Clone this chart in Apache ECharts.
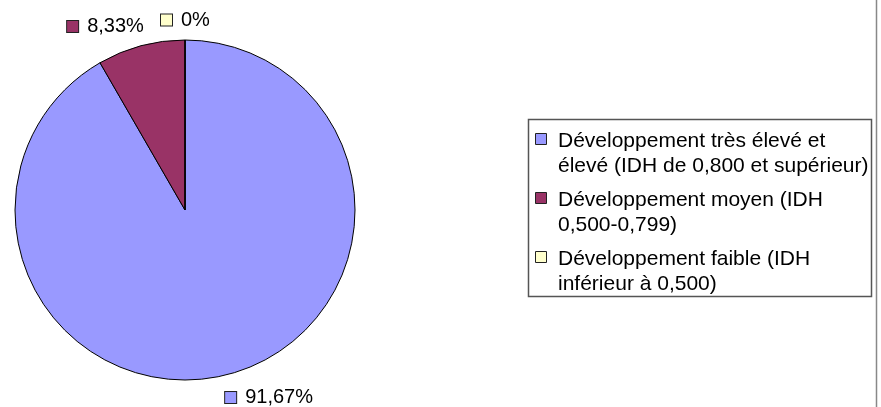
<!DOCTYPE html>
<html>
<head>
<meta charset="utf-8">
<script src="https://cdn.jsdelivr.net/npm/echarts@6/dist/echarts.min.js"></script>
<style>
  html, body { margin: 0; padding: 0; background: #fff; }
  #chart { width: 881px; height: 407px; }
</style>
</head>
<body>
<div id="chart"></div>
<script>
// catégories (le \n coupe la ligne dans la légende)
const categories = [
  'Développement très élevé et\nélevé (IDH de 0,800 et supérieur)',
  'Développement moyen (IDH\n0,500-0,799)',
  'Développement faible (IDH\ninférieur à 0,500)'
];
const values = [91.67, 8.33, 0];
const colors = ['#9999FF', '#993366', '#FFFFCC'];

const FONT = '"Liberation Sans", Arial, sans-serif';

const chartDom = document.getElementById('chart');
const myChart = echarts.init(chartDom);

// petits carrés de couleur devant les étiquettes
const rich = { t: { fontSize: 20, fontFamily: FONT, color: '#000', padding: [0, 0, 0, 9] } };
colors.forEach((c, i) => {
  rich['sq' + i] = { width: 11, height: 11, backgroundColor: c, borderColor: '#222', borderWidth: 1 };
});

// légende encadrée à droite
const legendItems = [];
const lx = 535, ly = 133, pitch = 59;
categories.forEach((name, i) => {
  const top = ly + i * pitch;
  legendItems.push({
    type: 'rect',
    shape: { x: lx + 0.5, y: top + 0.5, width: 11, height: 11 },
    style: { fill: colors[i], stroke: '#222', lineWidth: 1 }
  });
  legendItems.push({
    type: 'text',
    x: lx + 23,
    y: top - 4,
    style: {
      text: name,
      font: '21px ' + FONT,
      fill: '#000',
      lineHeight: 25,
      verticalAlign: 'top'
    }
  });
});

const labelShift = [[-14, 4], [13, 0], [-29, 0]];

const option = {
  animation: false,
  graphic: [
    {
      type: 'rect',
      shape: { x: 528.5, y: 119.5, width: 343, height: 177 },
      style: { fill: '#fff', stroke: '#555', lineWidth: 1.5 }
    },
    {
      type: 'line',
      shape: { x1: 876.5, y1: 0, x2: 876.5, y2: 407 },
      style: { stroke: '#888', lineWidth: 1.5 }
    }
  ].concat(legendItems),
  series: [
    {
      type: 'pie',
      center: [185, 210],
      radius: 170,
      startAngle: 90,
      clockwise: true,
      avoidLabelOverlap: false,
      itemStyle: { borderColor: '#000', borderWidth: 1 },
      label: {
        show: true,
        position: 'outside',
        formatter: p => '{sq' + p.dataIndex + '|}{t|' + String(p.value).replace('.', ',') + '%}',
        rich: rich
      },
      labelLine: { show: false, length: 20, length2: 0 },
      labelLayout: p => ({ dx: labelShift[p.dataIndex][0], dy: labelShift[p.dataIndex][1] }),
      emphasis: { disabled: true },
      data: categories.map((c, i) => ({
        name: c,
        value: values[i],
        itemStyle: { color: colors[i] }
      }))
    }
  ]
};

option && myChart.setOption(option);
</script>
</body>
</html>
